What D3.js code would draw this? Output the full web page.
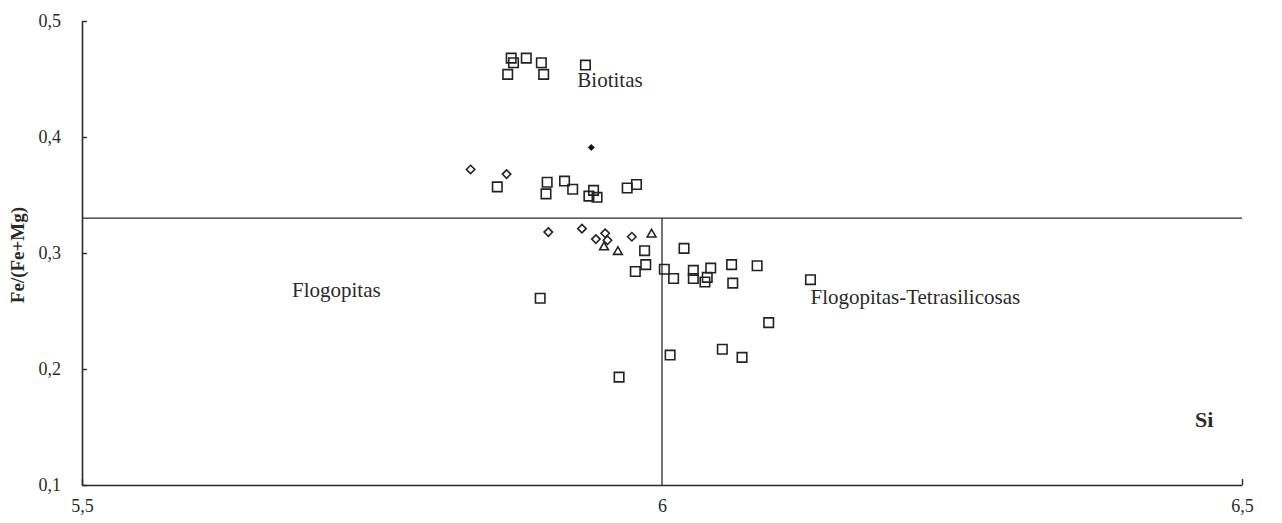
<!DOCTYPE html>
<html>
<head>
<meta charset="utf-8">
<script src="https://cdn.jsdelivr.net/npm/d3@7/dist/d3.min.js"></script>
<style>
  html, body { margin: 0; padding: 0; background: #fff; }
  svg { display: block; }
  text { font-family: "Liberation Serif", "Times New Roman", serif; fill: #2a2a2a; }
</style>
</head>
<body>
<svg id="chart" width="1282" height="523"></svg>
<script>
// ---- data ----
const xTicks = [5.5, 6, 6.5];
const yTicks = [0.1, 0.2, 0.3, 0.4, 0.5];
const squaresSi = [5.867,5.870,5.872,5.883,5.896,5.898,5.934,5.858,5.901,5.900,5.916,5.923,5.937,5.941,5.944,5.970,5.978,5.985,5.986,5.977,6.002,6.010,6.019,6.027,6.027,6.037,6.039,6.042,6.060,6.061,6.082,6.128,6.092,6.052,6.069,6.007,5.895,5.963];
const squaresFe = [0.454,0.468,0.464,0.468,0.464,0.454,0.462,0.357,0.361,0.351,0.362,0.355,0.349,0.354,0.348,0.356,0.359,0.302,0.290,0.284,0.286,0.278,0.304,0.285,0.278,0.275,0.279,0.287,0.290,0.274,0.289,0.277,0.240,0.217,0.210,0.212,0.261,0.193];
const diamondsSi = [5.835,5.866,5.902,5.931,5.943,5.951,5.953,5.974];
const diamondsFe = [0.372,0.368,0.318,0.321,0.312,0.317,0.311,0.314];
const trianglesSi = [5.991,5.950,5.962];
const trianglesFe = [0.316,0.305,0.301];
const filledSi = [5.939];
const filledFe = [0.391];
const boundaryFe = 0.33;
const boundarySi = 6;
const fieldLabels = ["Biotitas", "Flogopitas", "Flogopitas-Tetrasilicosas"];
const fieldSi = [5.927, 5.681, 6.128];
const fieldFe = [0.4435, 0.2622, 0.256];

// ---- chart ----
const svg = d3.select("#chart");
const x = d3.scaleLinear().domain([5.5, 6.5]).range([82, 1242]);
const y = d3.scaleLinear().domain([0.1, 0.5]).range([485, 21]);
const fmt = d => String(d).replace(".", ",");
const ink = "#2a2a2a";

// axes
const gx = svg.append("g").attr("transform", `translate(0,${y(0.1)})`)
  .call(d3.axisBottom(x).tickValues(xTicks).tickFormat(fmt).tickSizeInner(-6).tickSizeOuter(0).tickPadding(14));
const gy = svg.append("g").attr("transform", `translate(${x(5.5)},0)`)
  .call(d3.axisLeft(y).tickValues(yTicks).tickFormat(fmt).tickSizeInner(-5).tickSizeOuter(0).tickPadding(21));
[gx, gy].forEach(g => {
  g.select(".domain").attr("stroke", ink).attr("stroke-width", 1.6);
  g.selectAll(".tick line").attr("stroke", ink).attr("stroke-width", 1.4);
  g.selectAll(".tick text").attr("fill", "#3a3a3a").style("font-size", "18px")
    .style("font-family", '"Liberation Serif", serif');
});
gx.selectAll(".tick").filter(d => d === 6).select("line").remove();

// boundary lines
svg.append("line").attr("x1", x(5.5)).attr("x2", x(6.5)).attr("y1", y(boundaryFe)).attr("y2", y(boundaryFe))
  .attr("stroke", ink).attr("stroke-width", 1.3);
svg.append("line").attr("x1", x(boundarySi)).attr("x2", x(boundarySi)).attr("y1", y(boundaryFe)).attr("y2", y(0.1))
  .attr("stroke", ink).attr("stroke-width", 1.3);

// markers
const mk = (si, fe) => si.map((v, i) => ({si: v, fe: fe[i]}));
svg.append("g").selectAll("path").data(mk(squaresSi, squaresFe)).join("path")
  .attr("d", d3.symbol(d3.symbolSquare, 90))
  .attr("transform", d => `translate(${x(d.si)},${y(d.fe)})`)
  .attr("fill", "none").attr("stroke", "#222").attr("stroke-width", 1.6);
svg.append("g").selectAll("path").data(mk(diamondsSi, diamondsFe)).join("path")
  .attr("d", d3.symbol(d3.symbolDiamond2, 45))
  .attr("transform", d => `translate(${x(d.si)},${y(d.fe)})`)
  .attr("fill", "none").attr("stroke", "#222").attr("stroke-width", 1.6);
svg.append("g").selectAll("path").data(mk(trianglesSi, trianglesFe)).join("path")
  .attr("d", d3.symbol(d3.symbolTriangle2, 55))
  .attr("transform", d => `translate(${x(d.si)},${y(d.fe)})`)
  .attr("fill", "none").attr("stroke", "#222").attr("stroke-width", 1.6);
svg.append("g").selectAll("path").data(mk(filledSi, filledFe)).join("path")
  .attr("d", d3.symbol(d3.symbolDiamond2, 22))
  .attr("transform", d => `translate(${x(d.si)},${y(d.fe)})`)
  .attr("fill", "#111").attr("stroke", "#111").attr("stroke-width", 1);

// field labels
svg.append("g").selectAll("text").data(fieldLabels).join("text")
  .attr("x", (d, i) => x(fieldSi[i])).attr("y", (d, i) => y(fieldFe[i]))
  .style("font-size", "21px").attr("fill", "#2a2a2a").text(d => d);

// axis titles
svg.append("text").attr("transform", `translate(24,255) rotate(-90)`).attr("text-anchor", "middle")
  .style("font-size", "19px").style("font-weight", "bold").text("Fe/(Fe+Mg)");
svg.append("text").attr("x", 1195).attr("y", 427)
  .style("font-size", "22px").style("font-weight", "bold").text("Si");
</script>
</body>
</html>
